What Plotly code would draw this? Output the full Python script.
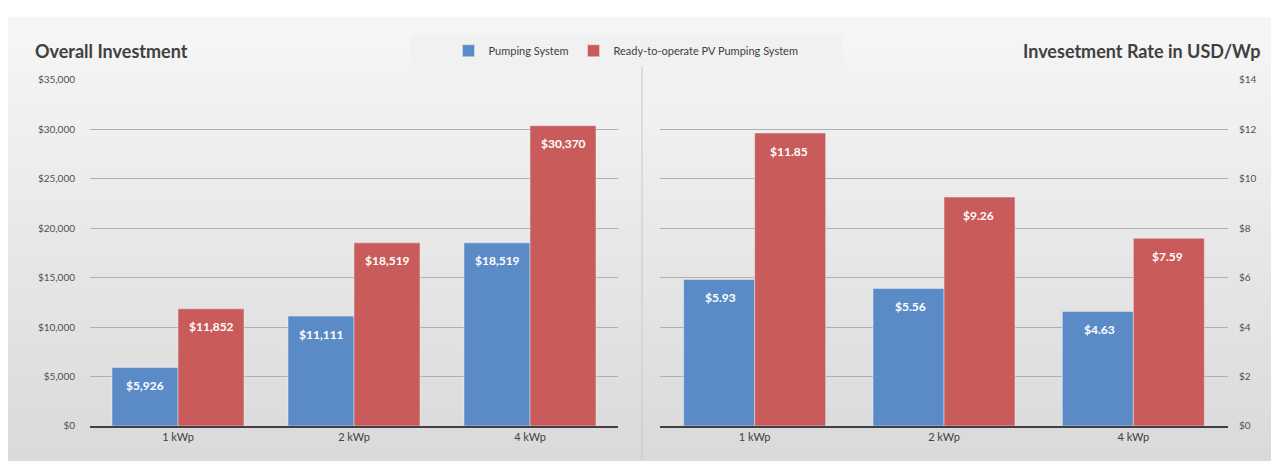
import plotly.graph_objects as go

# ---- data ----
categories = ["1 kWp", "2 kWp", "4 kWp"]
series_names = ["Pumping System", "Ready-to-operate PV Pumping System"]
overall_pumping = [5926, 11111, 18519]
overall_ready = [11852, 18519, 30370]
rate_pumping = [5.93, 5.56, 4.63]
rate_ready = [11.85, 9.26, 7.59]
overall_ticks = [0, 5000, 10000, 15000, 20000, 25000, 30000, 35000]
rate_ticks = [0, 2, 4, 6, 8, 10, 12, 14]

BLUE = "#5B8BC7"
RED = "#C95C5A"
FONT = "Lato"
TXT = "#404040"

W, H = 1271, 466
fig = go.Figure()

# left panel: overall investment
fig.add_trace(go.Bar(x=categories, y=overall_pumping, name=series_names[0],
                     marker_color=BLUE, xaxis="x", yaxis="y", hoverinfo="y"))
fig.add_trace(go.Bar(x=categories, y=overall_ready, name=series_names[1],
                     marker_color=RED, xaxis="x", yaxis="y", hoverinfo="y"))
# right panel: rate per Wp
fig.add_trace(go.Bar(x=categories, y=rate_pumping, name=series_names[0],
                     marker_color=BLUE, xaxis="x2", yaxis="y2", showlegend=False))
fig.add_trace(go.Bar(x=categories, y=rate_ready, name=series_names[1],
                     marker_color=RED, xaxis="x2", yaxis="y2", showlegend=False))

annotations = []
label_font = dict(family=FONT, size=12, color="white")
for cat, vb, vr in zip(categories, overall_pumping, overall_ready):
    annotations.append(dict(x=cat, y=vb, xref="x", yref="y", text=f"<b>${vb:,}</b>",
                            showarrow=False, xshift=-33, yshift=-18, font=label_font))
    annotations.append(dict(x=cat, y=vr, xref="x", yref="y", text=f"<b>${vr:,}</b>",
                            showarrow=False, xshift=33, yshift=-18, font=label_font))
for cat, vb, vr in zip(categories, rate_pumping, rate_ready):
    annotations.append(dict(x=cat, y=vb, xref="x2", yref="y2", text=f"<b>${vb:.2f}</b>",
                            showarrow=False, xshift=-34, yshift=-18, font=label_font))
    annotations.append(dict(x=cat, y=vr, xref="x2", yref="y2", text=f"<b>${vr:.2f}</b>",
                            showarrow=False, xshift=34, yshift=-18, font=label_font))

# panel titles
annotations.append(dict(x=33 / W, y=1 - 45 / H, xref="paper", yref="paper", xanchor="left",
                        yanchor="middle", text="<b>Overall Investment</b>", showarrow=False,
                        font=dict(family=FONT, size=18, color=TXT)))
annotations.append(dict(x=1262 / W, y=1 - 45 / H, xref="paper", yref="paper", xanchor="right",
                        yanchor="middle", text="<b>Invesetment Rate in USD/Wp</b>", showarrow=False,
                        font=dict(family=FONT, size=18, color=TXT)))

# background: white frame with a soft vertical grey gradient
shapes = []
n = 40
top, bottom = 10, H
c0, c1 = (246, 246, 246), (218, 218, 218)
for i in range(n):
    t = i / (n - 1)
    c = tuple(int(round(a + (b - a) * t)) for a, b in zip(c0, c1))
    y0 = top + (bottom - top) * i / n
    y1 = top + (bottom - top) * (i + 1) / n + 1
    shapes.append(dict(type="rect", xref="paper", yref="paper", layer="below",
                       x0=8 / W, x1=1, y0=1 - y1 / H, y1=1 - y0 / H,
                       fillcolor=f"rgb{c}", line=dict(width=0)))
# legend backdrop
shapes.append(dict(type="rect", xref="paper", yref="paper", layer="below",
                   x0=410 / W, x1=843 / W, y0=1 - 61 / H, y1=1 - 29 / H,
                   fillcolor="#F1F1F1", line=dict(width=0)))
# panel divider
shapes.append(dict(type="line", xref="paper", yref="paper", layer="below",
                   x0=642 / W, x1=642 / W, y0=0, y1=1 - 61 / H,
                   line=dict(color="#C8C8C8", width=1)))

ydom = [1 - 431 / H, 1 - 75 / H]
axis_common = dict(showgrid=False, ticks="", showline=True, linecolor="#404040", linewidth=1.5,
                   tickfont=dict(family=FONT, size=11, color=TXT), fixedrange=True)
yaxis_common = dict(showgrid=True, gridcolor="#B0B0B0", gridwidth=1, zeroline=False,
                    showline=False, ticks="", tickfont=dict(family=FONT, size=10, color="#505050"),
                    domain=ydom, fixedrange=True)

fig.update_layout(
    width=W, height=H,
    margin=dict(l=0, r=0, t=0, b=0),
    paper_bgcolor="white",
    plot_bgcolor="rgba(0,0,0,0)",
    barmode="group",
    bargap=0.25,
    bargroupgap=0,
    xaxis=dict(domain=[90 / W, 618 / W], anchor="y", **axis_common),
    yaxis=dict(anchor="x", range=[0, 35000], tickvals=overall_ticks,
               ticktext=[f"${v:,}" for v in overall_ticks], ticklabelstandoff=14,
               **yaxis_common),
    xaxis2=dict(domain=[660 / W, 1228 / W], anchor="y2", **axis_common),
    yaxis2=dict(anchor="x2", side="right", range=[0, 14], tickvals=rate_ticks,
                ticktext=[f"${v}" for v in rate_ticks], ticklabelstandoff=10,
                **yaxis_common),
    legend=dict(orientation="h", x=626 / W, xanchor="center", y=1 - 45 / H, yanchor="middle",
                bgcolor="rgba(0,0,0,0)", font=dict(family=FONT, size=11, color=TXT),
                itemwidth=30, traceorder="normal"),
    annotations=annotations,
    shapes=shapes,
    showlegend=True,
)

fig.write_html("out.html")
